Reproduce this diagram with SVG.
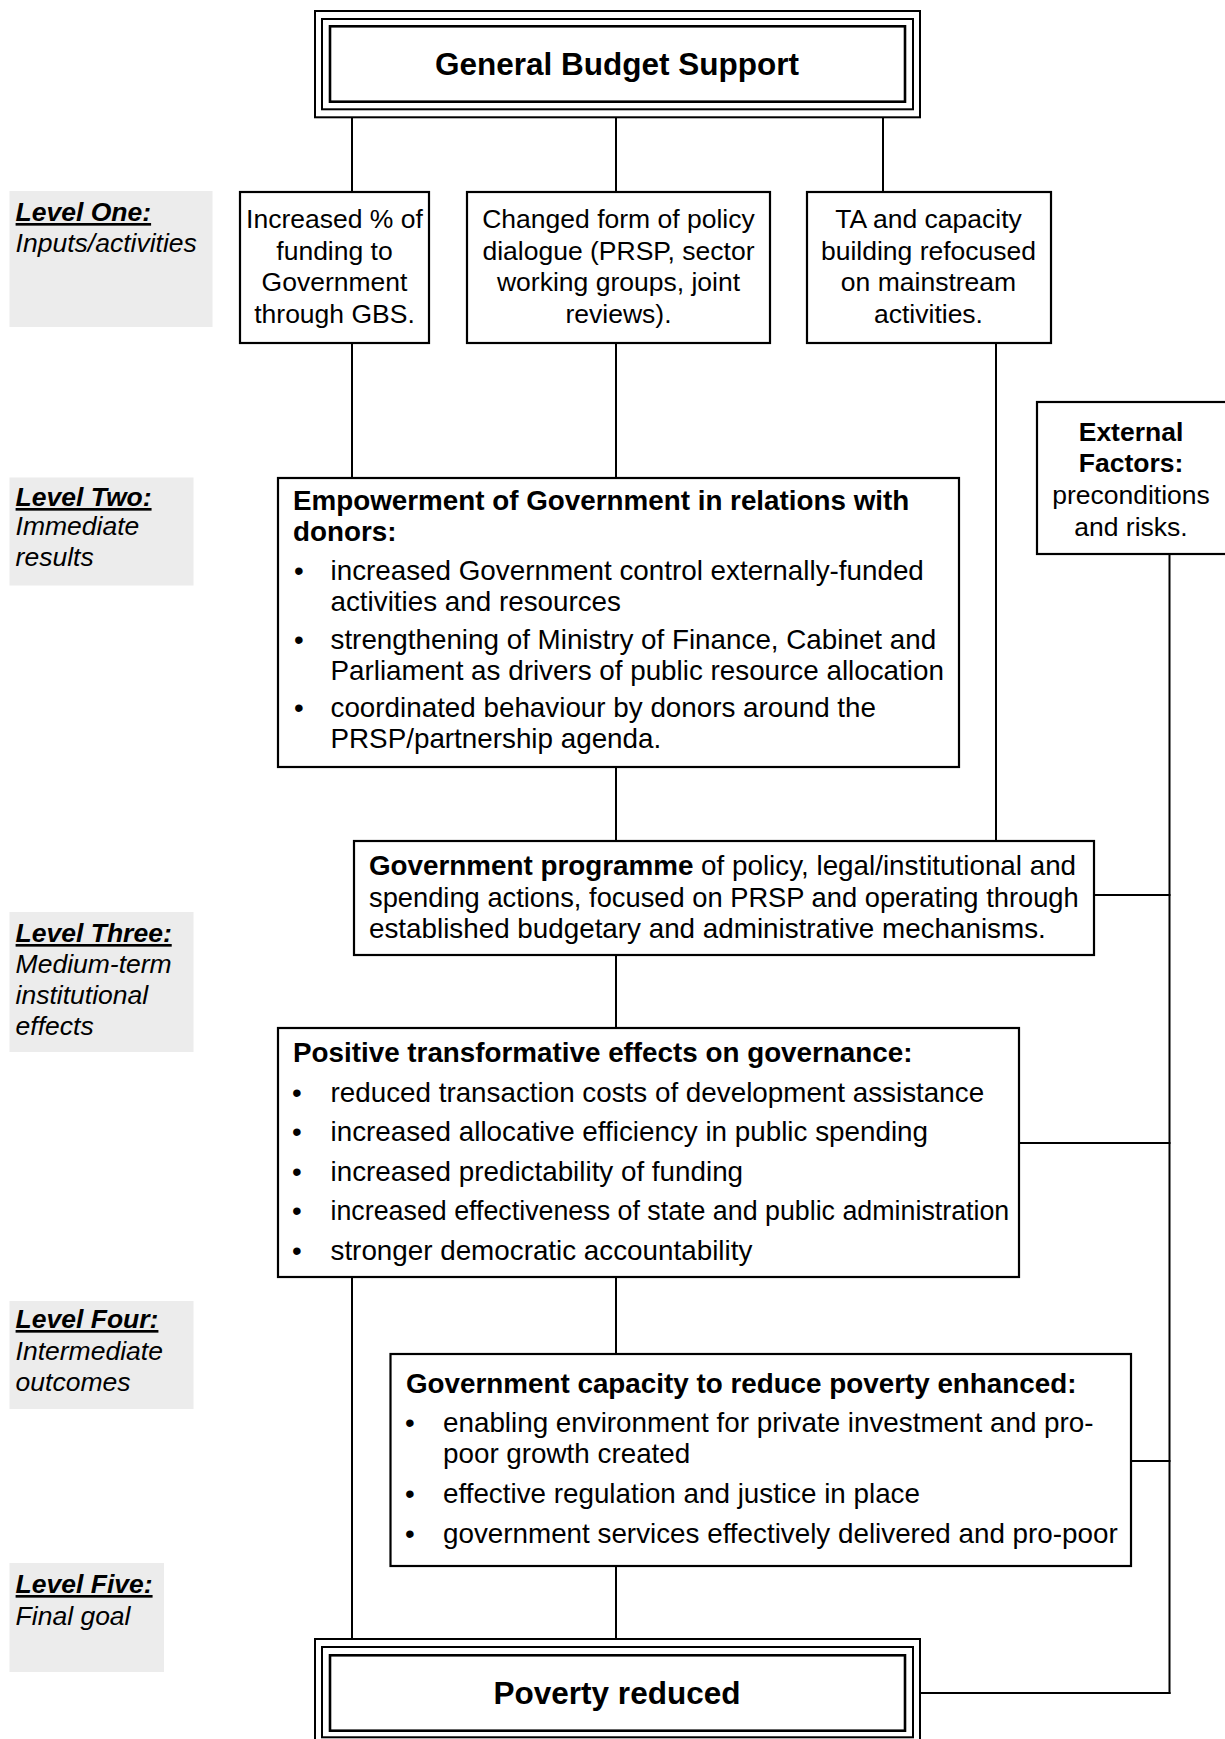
<svg xmlns="http://www.w3.org/2000/svg" width="1225" height="1739" viewBox="0 0 1225 1739">
<style>
text{font-family:"Liberation Sans",Arial,Helvetica,sans-serif;fill:#000}
.box{fill:#fff;stroke:#000;stroke-width:2.2}
.lab{fill:#ececec;stroke:none}
.conn line{stroke:#000;stroke-width:2;fill:none}
.lv{font-size:26.5px;font-style:italic}
.lvh{font-weight:bold;text-decoration:underline}
.s1{font-size:26.5px;text-anchor:middle}
.big{font-size:31.5px;font-weight:bold;text-anchor:middle}
.b{font-size:27.8px;font-weight:bold}
.t{font-size:27.8px}
</style>
<rect width="1225" height="1739" fill="#fff"/>

<g id="labels">
<rect class="lab" x="9.5" y="191" width="203" height="136"/>
<text class="lv" x="15.6" y="221"><tspan class="lvh">Level One:</tspan></text>
<text class="lv" x="15.6" y="252">Inputs/activities</text>
<rect class="lab" x="9.5" y="477.5" width="184" height="108"/>
<text class="lv" x="15.6" y="506"><tspan class="lvh">Level Two:</tspan></text>
<text class="lv" x="15.6" y="535">Immediate</text>
<text class="lv" x="15.6" y="566">results</text>
<rect class="lab" x="9.5" y="912" width="184" height="140"/>
<text class="lv" x="15.6" y="942"><tspan class="lvh">Level Three:</tspan></text>
<text class="lv" x="15.6" y="973">Medium-term</text>
<text class="lv" x="15.6" y="1004">institutional</text>
<text class="lv" x="15.6" y="1035">effects</text>
<rect class="lab" x="9.5" y="1301" width="184" height="108"/>
<text class="lv" x="15.6" y="1328"><tspan class="lvh">Level Four:</tspan></text>
<text class="lv" x="15.6" y="1360">Intermediate</text>
<text class="lv" x="15.6" y="1391">outcomes</text>
<rect class="lab" x="9.5" y="1563" width="154.5" height="109"/>
<text class="lv" x="15.6" y="1593"><tspan class="lvh">Level Five:</tspan></text>
<text class="lv" x="15.6" y="1625">Final goal</text>
</g>

<g class="conn" id="connectors">
<line x1="352" y1="117" x2="352" y2="192"/>
<line x1="616" y1="117" x2="616" y2="192"/>
<line x1="883" y1="117" x2="883" y2="192"/>
<line x1="352" y1="343" x2="352" y2="478"/>
<line x1="616" y1="343" x2="616" y2="478"/>
<line x1="996" y1="343" x2="996" y2="841"/>
<line x1="616" y1="767" x2="616" y2="841"/>
<line x1="616" y1="955" x2="616" y2="1028"/>
<line x1="616" y1="1277" x2="616" y2="1354"/>
<line x1="352" y1="1277" x2="352" y2="1639"/>
<line x1="616" y1="1566" x2="616" y2="1639"/>
<line x1="1169.5" y1="554" x2="1169.5" y2="1694"/>
<line x1="1094" y1="895" x2="1170.5" y2="895"/>
<line x1="1019" y1="1143" x2="1170.5" y2="1143"/>
<line x1="1131" y1="1461" x2="1170.5" y2="1461"/>
<line x1="920" y1="1693" x2="1170.5" y2="1693"/>
</g>

<g id="gbs">
<rect x="315" y="11" width="605" height="106.3" fill="#fff" stroke="#000" stroke-width="2"/>
<rect x="322" y="19" width="591" height="90.3" fill="none" stroke="#000" stroke-width="2"/>
<rect x="330" y="26.3" width="575" height="75.4" fill="none" stroke="#000" stroke-width="2.6"/>
<text class="big" x="617" y="74.5">General Budget Support</text>
</g>

<g id="in1">
<rect class="box" x="240" y="192" width="189" height="151"/>
<text class="s1" x="334.5" y="228">Increased % of</text>
<text class="s1" x="334.5" y="259.5">funding to</text>
<text class="s1" x="334.5" y="291">Government</text>
<text class="s1" x="334.5" y="322.5">through GBS.</text>
</g>
<g id="in2">
<rect class="box" x="467" y="192" width="303" height="151"/>
<text class="s1" x="618.5" y="228">Changed form of policy</text>
<text class="s1" x="618.5" y="259.5">dialogue (PRSP, sector</text>
<text class="s1" x="618.5" y="291">working groups, joint</text>
<text class="s1" x="618.5" y="322.5">reviews).</text>
</g>
<g id="in3">
<rect class="box" x="807" y="192" width="244" height="151"/>
<text class="s1" x="928.5" y="228">TA and capacity</text>
<text class="s1" x="928.5" y="259.5">building refocused</text>
<text class="s1" x="928.5" y="291">on mainstream</text>
<text class="s1" x="928.5" y="322.5">activities.</text>
</g>

<g id="external">
<rect class="box" x="1037" y="402" width="195" height="152"/>
<text class="s1" x="1131" y="441" font-weight="bold">External</text>
<text class="s1" x="1131" y="472" font-weight="bold">Factors:</text>
<text class="s1" x="1131" y="503.5">preconditions</text>
<text class="s1" x="1131" y="535.5">and risks.</text>
</g>

<g id="empowerment">
<rect class="box" x="278" y="478" width="681" height="289"/>
<text class="b" x="293" y="510">Empowerment of Government in relations with</text>
<text class="b" x="293" y="541">donors:</text>
<text class="t" x="294" y="580">•</text><text class="t" x="330.5" y="580">increased Government control externally-funded</text>
<text class="t" x="330.5" y="611">activities and resources</text>
<text class="t" x="294" y="649">•</text><text class="t" x="330.5" y="649">strengthening of Ministry of Finance, Cabinet and</text>
<text class="t" x="330.5" y="680">Parliament as drivers of public resource allocation</text>
<text class="t" x="294" y="717">•</text><text class="t" x="330.5" y="717">coordinated behaviour by donors around the</text>
<text class="t" x="330.5" y="748">PRSP/partnership agenda.</text>
</g>

<g id="programme">
<rect class="box" x="354" y="841" width="740" height="114"/>
<text class="t" x="369" y="875"><tspan font-weight="bold">Government programme</tspan> of policy, legal/institutional and</text>
<text class="t" x="369" y="906.5" style="font-size:27.3px">spending actions, focused on PRSP and operating through</text>
<text class="t" x="369" y="938">established budgetary and administrative mechanisms.</text>
</g>

<g id="governance">
<rect class="box" x="278" y="1028" width="741" height="249"/>
<text class="b" x="293" y="1062">Positive transformative effects on governance:</text>
<text class="t" x="292" y="1102">•</text><text class="t" x="330.5" y="1102">reduced transaction costs of development assistance</text>
<text class="t" x="292" y="1141">•</text><text class="t" x="330.5" y="1141">increased allocative efficiency in public spending</text>
<text class="t" x="292" y="1181">•</text><text class="t" x="330.5" y="1181">increased predictability of funding</text>
<text class="t" x="292" y="1220">•</text><text class="t" x="330.5" y="1220" style="font-size:26.8px">increased effectiveness of state and public administration</text>
<text class="t" x="292" y="1260">•</text><text class="t" x="330.5" y="1260">stronger democratic accountability</text>
</g>

<g id="capacity">
<rect class="box" x="390.5" y="1354" width="740.5" height="212"/>
<text class="b" x="406" y="1393">Government capacity to reduce poverty enhanced:</text>
<text class="t" x="405" y="1432">•</text><text class="t" x="443" y="1432">enabling environment for private investment and pro-</text>
<text class="t" x="443" y="1463">poor growth created</text>
<text class="t" x="405" y="1503">•</text><text class="t" x="443" y="1503">effective regulation and justice in place</text>
<text class="t" x="405" y="1543">•</text><text class="t" x="443" y="1543">government services effectively delivered and pro-poor</text>
</g>

<g id="poverty">
<rect x="315" y="1639" width="605" height="106.3" fill="#fff" stroke="#000" stroke-width="2"/>
<rect x="322" y="1647" width="591" height="90.3" fill="none" stroke="#000" stroke-width="2"/>
<rect x="330" y="1655.3" width="575" height="75.4" fill="none" stroke="#000" stroke-width="2.6"/>
<text class="big" x="617" y="1704">Poverty reduced</text>
</g>
</svg>
